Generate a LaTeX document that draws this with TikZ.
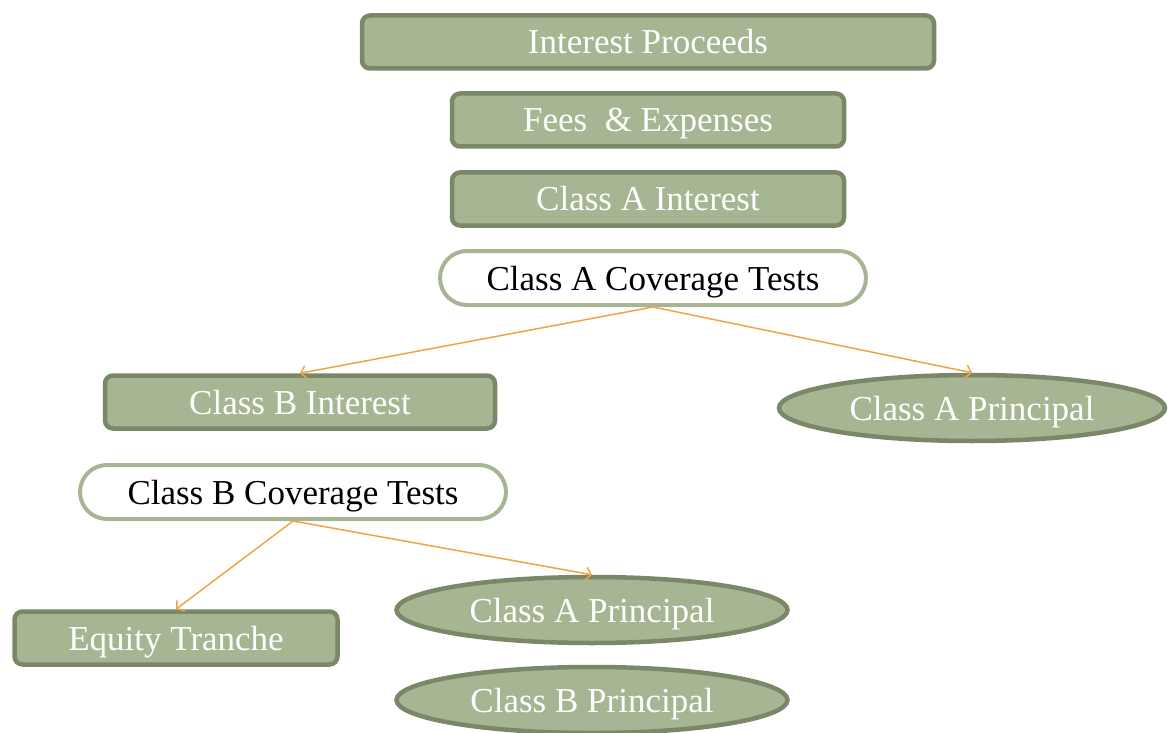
\documentclass[tikz,border=0pt]{standalone}
\usepackage{fontspec}
\setmainfont{Liberation Serif}
\usetikzlibrary{arrows.meta,shapes.geometric}
\definecolor{sage}{RGB}{166,181,146}
\definecolor{darksage}{RGB}{122,135,105}
\definecolor{arrowor}{RGB}{242,164,69}
\begin{document}
\begin{tikzpicture}[x=1pt,y=-1pt,
  txt/.style={font=\fontsize{35}{40}\selectfont, inner sep=0pt, text height=26pt, text depth=2pt},
  gbox/.style={txt, draw=darksage, fill=sage, line width=4.5pt, rounded corners=8pt, text=white,
    minimum height=53pt},
  testov/.style={txt, draw=sage, fill=white, line width=4pt, rounded corners=27pt, text=black,
    minimum height=54pt},
  gell/.style={txt, ellipse, draw=darksage, fill=sage, line width=4.5pt, text=white,
    minimum height=66pt},
  arr/.style={draw=arrowor, line width=1.5pt, -{Straight Barb[length=5pt,width=13pt]}}]
\useasboundingbox (0,0) rectangle (1168,733);
\node[gbox, minimum width=572pt] (ip) at (648,42) {Interest Proceeds};
\node[gbox, minimum width=392pt] (fe) at (648,120) {Fees\ \ \& Expenses};
\node[gbox, minimum width=392pt] (cai) at (648,199) {Class A Interest};
\node[testov, minimum width=426pt] (cat) at (653,278) {Class A Coverage Tests};
\node[gbox, minimum width=390pt] (cbi) at (300,402) {Class B Interest};
\node[gell, minimum width=386pt] (cap1) at (972,408) {Class A Principal};
\node[testov, minimum width=426pt] (cbt) at (293,492) {Class B Coverage Tests};
\node[gbox, minimum width=323pt] (eq) at (176,638) {Equity Tranche};
\node[gell, minimum width=391pt] (cap2) at (592,610) {Class A Principal};
\node[gell, minimum width=391pt] (cbp) at (592,700) {Class B Principal};
\draw[arr] (cat.south) -- (cbi.north);
\draw[arr] (cat.south) -- (cap1.north);
\draw[arr] (cbt.south) -- (eq.north);
\draw[arr] (cbt.south) -- (cap2.north);
\end{tikzpicture}
\end{document}
